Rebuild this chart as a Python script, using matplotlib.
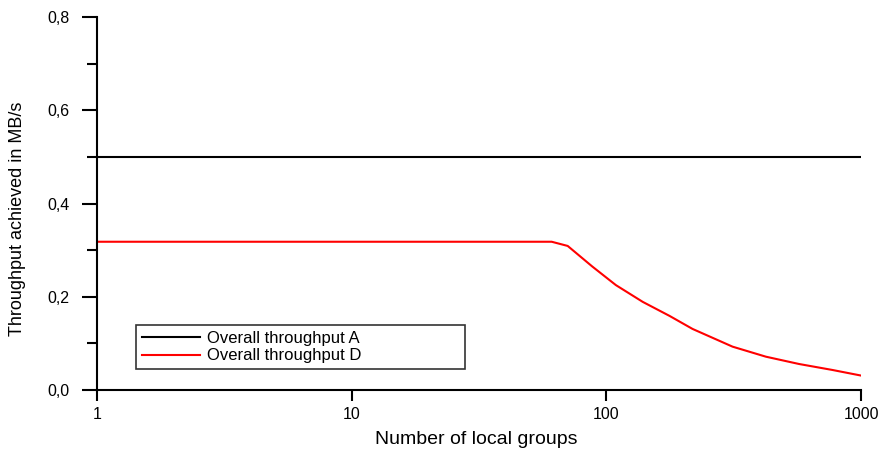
import matplotlib
matplotlib.use('Agg')
import matplotlib.pyplot as plt
from matplotlib.ticker import FixedLocator, FuncFormatter, NullLocator

plt.rcParams['font.family'] = ['Liberation Sans', 'DejaVu Sans']

# data
groups_a = [1, 1000]
throughput_a = [0.5, 0.5]
groups_d = [1, 61, 70.5, 88, 109, 139, 177, 218, 313, 423, 571, 772, 1000]
throughput_d = [0.318, 0.318, 0.309, 0.265, 0.225, 0.189, 0.159, 0.131,
                0.093, 0.0715, 0.0558, 0.043, 0.031]
x_ticks = [1, 10, 100, 1000]
y_ticks = [0.0, 0.2, 0.4, 0.6, 0.8]
y_minor = [0.1, 0.3, 0.5, 0.7]

fig = plt.figure(figsize=(8.83, 4.5), dpi=100)
ax = fig.add_axes([0.1099, 0.1333, 0.8652, 0.8289])

ax.plot(groups_a, throughput_a, color='black', lw=1.5, label='Overall throughput A')
ax.plot(groups_d, throughput_d, color='red', lw=1.5, label='Overall throughput D')

ax.set_xscale('log')
ax.set_xlim(1, 1000)
ax.set_ylim(0, 0.8)

ax.xaxis.set_major_locator(FixedLocator(x_ticks))
ax.xaxis.set_minor_locator(NullLocator())
ax.xaxis.set_major_formatter(FuncFormatter(lambda v, p: '%d' % v))
ax.yaxis.set_major_locator(FixedLocator(y_ticks))
ax.yaxis.set_minor_locator(FixedLocator(y_minor))
ax.yaxis.set_major_formatter(FuncFormatter(lambda v, p: ('%.1f' % v).replace('.', ',')))

for s in ['top', 'right']:
    ax.spines[s].set_visible(False)
for s in ['left', 'bottom']:
    ax.spines[s].set_linewidth(1.5)
    ax.spines[s].set_color('black')

ax.tick_params(axis='y', which='major', direction='out', length=11, width=1.5, labelsize=11.5, pad=9)
ax.tick_params(axis='y', which='minor', direction='out', length=7, width=1.5)
ax.tick_params(axis='x', which='major', direction='out', length=8, width=1.5, labelsize=11.5, pad=4)

ax.set_xlabel('Number of local groups', fontsize=14)
ax.set_ylabel('Throughput achieved in MB/s', fontsize=13)
ax.xaxis.set_label_coords(0.497, -0.11)
ax.yaxis.set_label_coords(-0.093, 0.458)

leg = ax.legend(loc='upper left', bbox_to_anchor=(0.051, 0.174, 0.4307, 0.0),
                mode='expand', fontsize=12, handlelength=3.5, handletextpad=0.4,
                borderpad=0.35, labelspacing=0.15, fancybox=False, frameon=True,
                borderaxespad=0)
leg.get_frame().set_edgecolor('black')
leg.get_frame().set_linewidth(1.2)

fig.savefig('out.png', dpi=100)
